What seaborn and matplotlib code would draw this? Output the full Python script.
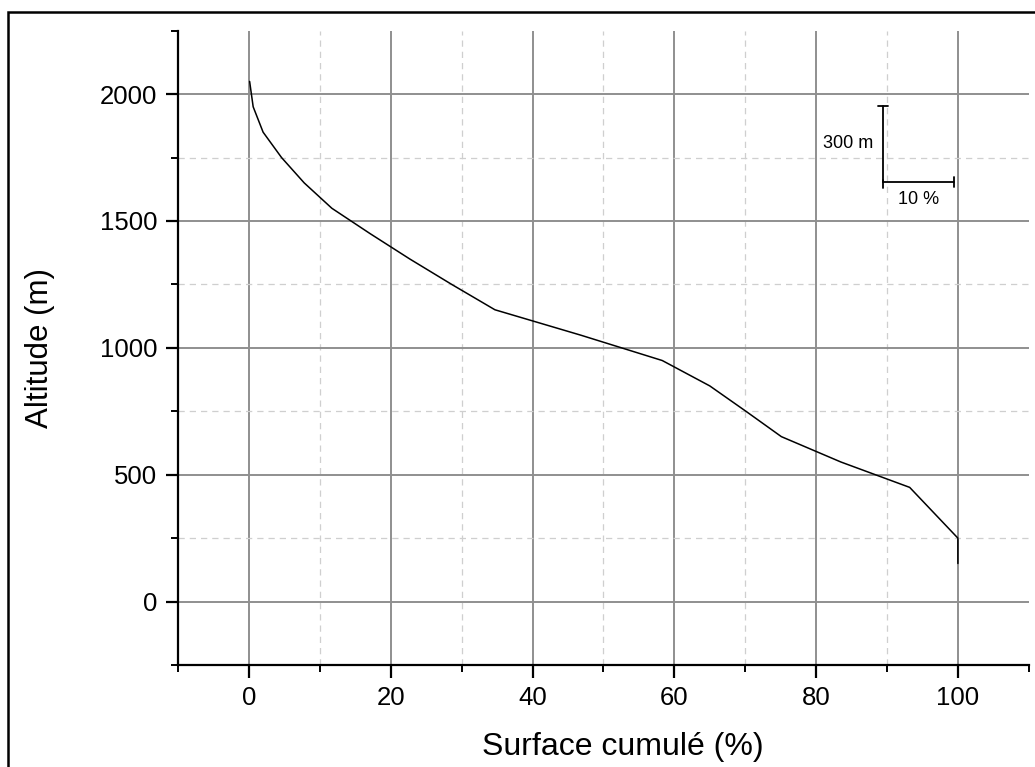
import matplotlib
matplotlib.use("Agg")
import matplotlib.pyplot as plt
from matplotlib.patches import Rectangle
from matplotlib.ticker import FixedLocator
import seaborn as sns
import pandas as pd

# Hypsometric curve: altitude band vs cumulated surface share
altitude_m = [2050, 1950, 1850, 1750, 1650, 1550, 1450, 1350, 1250, 1150,
              1050, 950, 850, 750, 650, 550, 450, 350, 250, 150]
surface_cum_pct = [0.1, 0.6, 2.0, 4.6, 7.8, 11.7, 17.1, 22.7, 28.6, 34.7,
                   46.8, 58.3, 65.0, 70.1, 75.1, 83.5, 93.2, 96.6, 100.0, 100.0]

x_major = [0, 20, 40, 60, 80, 100]
x_minor = [-10, 10, 30, 50, 70, 90, 110]
y_major = [0, 500, 1000, 1500, 2000]
y_minor = [-250, 250, 750, 1250, 1750, 2250]

df = pd.DataFrame({"surface": surface_cum_pct, "altitude": altitude_m})

sns.set_theme(style="white")
plt.rcParams["font.family"] = ["Liberation Sans", "DejaVu Sans"]

fig = plt.figure(figsize=(10.35, 7.67), dpi=100)
ax = fig.add_axes([0.172, 0.133, 0.822, 0.827])

ax.set_xlim(-10, 110)
ax.set_ylim(-250, 2250)

ax.xaxis.set_major_locator(FixedLocator(x_major))
ax.xaxis.set_minor_locator(FixedLocator(x_minor))
ax.yaxis.set_major_locator(FixedLocator(y_major))
ax.yaxis.set_minor_locator(FixedLocator(y_minor))

ax.grid(which="major", color="#8f8f8f", linewidth=1.4, linestyle="-")
ax.grid(which="minor", color="#cfcfcf", linewidth=0.9, linestyle=(0, (5, 4)))
ax.set_axisbelow(True)

sns.lineplot(data=df, x="surface", y="altitude", sort=False, estimator=None,
             color="black", linewidth=1.1, ax=ax)

for side in ("top", "right"):
    ax.spines[side].set_visible(False)
for side in ("left", "bottom"):
    ax.spines[side].set_color("black")
    ax.spines[side].set_linewidth(1.6)

ax.tick_params(which="major", direction="out", length=9, width=1.6,
               colors="black", labelsize=18.5, pad=6, left=True, bottom=True)
ax.tick_params(which="minor", direction="out", length=5, width=1.4,
               colors="black", left=True, bottom=True)

# no dashed grid along the axis limits
fig.canvas.draw()
for axis, limits in ((ax.xaxis, (-10, 110)), (ax.yaxis, (-250, 2250))):
    locs = axis.get_minorticklocs()
    for loc, tick in zip(locs, axis.get_minor_ticks()):
        if loc in limits:
            tick.gridline.set_visible(False)

ax.set_xlabel("Surface cumulé (%)", fontsize=23, color="black")
ax.xaxis.set_label_coords(0.523, -0.105)
ax.set_ylabel("Altitude (m)", fontsize=22.5, labelpad=32, color="black")

# Scale bar: 10 % horizontally, 300 m vertically
sx0, sy0 = 89.4, 1655
ax.plot([sx0, sx0], [sy0, sy0 + 300], color="black", linewidth=1.3)
ax.plot([sx0, sx0 + 10], [sy0, sy0], color="black", linewidth=1.3)
ax.plot([sx0 - 0.7, sx0 + 0.7], [sy0 + 300, sy0 + 300], color="black", linewidth=1.3)
ax.plot([sx0, sx0], [sy0 - 25, sy0 + 5], color="black", linewidth=1.3)
ax.plot([sx0 + 10, sx0 + 10], [sy0 - 20, sy0 + 20], color="black", linewidth=1.3)
ax.text(sx0 - 1.3, sy0 + 150, "300 m", ha="right", va="center", fontsize=13, color="black")
ax.text(sx0 + 5, sy0 - 70, "10 %", ha="center", va="center", fontsize=13, color="black")

# Frame around the figure
fig.patches.append(Rectangle((0.0077, -0.1), 1.2, 1.0844, transform=fig.transFigure,
                             fill=False, edgecolor="black", linewidth=1.8))

fig.savefig("out.png", dpi=100)
